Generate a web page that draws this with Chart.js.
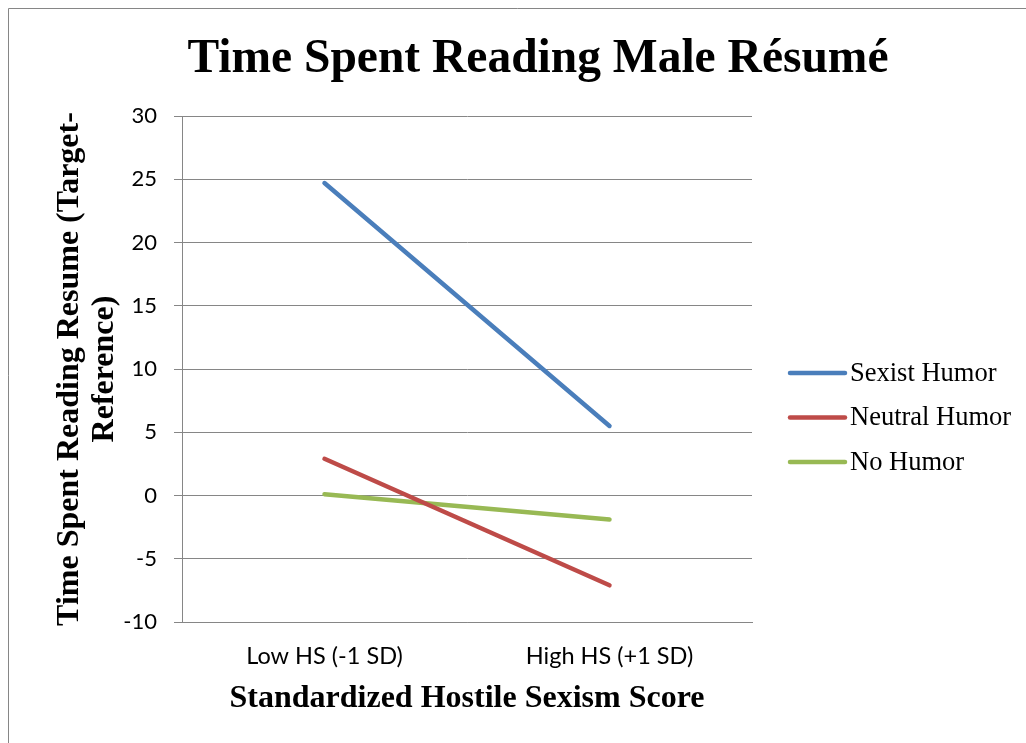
<!DOCTYPE html>
<html>
<head>
<meta charset="utf-8">
<title>Time Spent Reading Male Résumé</title>
<script src="https://cdn.jsdelivr.net/npm/chart.js@4.4.1/dist/chart.umd.min.js"></script>
<style>
  html, body { margin: 0; padding: 0; background: #ffffff; }
  #wrap { position: relative; width: 1026px; height: 743px; }
  canvas { display: block; }
</style>
</head>
<body>
<div id="wrap"><canvas id="chart" width="1026" height="743"></canvas></div>
<script>
// Data
const categories = ['Low HS (-1 SD)', 'High HS (+1 SD)'];
const seriesNames = ['Sexist Humor', 'Neutral Humor', 'No Humor'];
const sexistHumor = [24.7, 5.5];
const neutralHumor = [2.9, -7.1];
const noHumor = [0.1, -1.9];
const yTicks = [-10, -5, 0, 5, 10, 15, 20, 25, 30];

const GRID = '#868686';
const SERIF = '"Liberation Serif", "Times New Roman", serif';
const SANS = 'Lato, "Open Sans", sans-serif';

// White page with the thin frame along the top and left edges
const framePlugin = {
  id: 'frame',
  beforeDraw(chart) {
    const ctx = chart.ctx;
    ctx.save();
    ctx.fillStyle = '#ffffff';
    ctx.fillRect(0, 0, chart.width, chart.height);
    ctx.strokeStyle = GRID;
    ctx.lineWidth = 1;
    ctx.beginPath();
    ctx.moveTo(8.5, chart.height);
    ctx.lineTo(8.5, 8.5);
    ctx.lineTo(chart.width, 8.5);
    ctx.stroke();
    ctx.restore();
  }
};

// Legend drawn to the right of the plot, one line sample per series
const sideLegend = {
  id: 'sideLegend',
  afterDraw(chart, args, opts) {
    const ctx = chart.ctx;
    ctx.save();
    ctx.font = opts.font;
    ctx.textBaseline = 'middle';
    ctx.textAlign = 'left';
    chart.data.datasets.forEach((ds, i) => {
      const y = opts.top + i * opts.rowGap;
      ctx.strokeStyle = ds.borderColor;
      ctx.lineWidth = ds.borderWidth;
      ctx.lineCap = 'round';
      ctx.beginPath();
      ctx.moveTo(opts.x, y);
      ctx.lineTo(opts.x + opts.lineLength, y);
      ctx.stroke();
      ctx.fillStyle = '#000000';
      ctx.fillText(ds.label, opts.x + opts.lineLength + opts.gap, y + 1);
    });
    ctx.restore();
  }
};

const seriesValues = [sexistHumor, neutralHumor, noHumor];
const seriesColors = ['#4A7EBB', '#BE4B48', '#98B954'];

new Chart(document.getElementById('chart'), {
  type: 'line',
  data: {
    labels: categories,
    datasets: seriesNames.map((name, i) => ({
      label: name,
      data: seriesValues[i],
      borderColor: seriesColors[i],
      backgroundColor: seriesColors[i],
      borderWidth: 4.5,
      borderCapStyle: 'round',
      pointRadius: 0,
      pointHoverRadius: 0,
      tension: 0,
      fill: false
    }))
  },
  options: {
    responsive: false,
    animation: false,
    layout: { padding: { top: 0, left: 50, right: 0, bottom: 0 } },
    plugins: {
      legend: { display: false },
      tooltip: { enabled: false },
      title: {
        display: true,
        text: 'Time Spent Reading Male Résumé',
        color: '#000000',
        font: { family: SERIF, size: 47.5, weight: 'bold', lineHeight: 1.2 },
        padding: { top: 31, bottom: 28 }
      },
      sideLegend: {
        x: 790,
        top: 373,
        rowGap: 44.5,
        lineLength: 55,
        gap: 5,
        font: '26.5px ' + SERIF
      }
    },
    scales: {
      x: {
        type: 'category',
        offset: true,
        grid: { display: false, drawTicks: false },
        border: { display: true, color: GRID, width: 1 },
        ticks: {
          color: '#000000',
          font: { family: SANS, size: 23.5, lineHeight: 1.2 },
          padding: 20,
          maxRotation: 0
        },
        title: {
          display: true,
          text: 'Standardized Hostile Sexism Score',
          color: '#000000',
          font: { family: SERIF, size: 32, weight: 'bold', lineHeight: 1.2 },
          padding: { top: 0, bottom: 25 }
        },
        afterFit(scale) { scale.height = 121; }
      },
      y: {
        min: yTicks[0],
        max: yTicks[yTicks.length - 1],
        afterBuildTicks(scale) { scale.ticks = yTicks.map(v => ({ value: v })); },
        grid: { color: GRID, lineWidth: 1, tickLength: 8, drawTicks: true },
        border: { display: true, color: GRID, width: 1 },
        ticks: {
          color: '#000000',
          font: { family: SANS, size: 22 },
          padding: 17
        },
        title: {
          display: true,
          text: ['Time Spent Reading Resume (Target-', 'Reference)'],
          color: '#000000',
          font: { family: SERIF, size: 32, weight: 'bold', lineHeight: 1.1 },
          padding: { top: 2, bottom: 0 }
        },
        afterFit(scale) { scale.width = 132; }
      },
      // empty band on the right that holds the legend
      legendBand: {
        type: 'linear',
        position: 'right',
        display: true,
        grid: { display: false, drawTicks: false },
        border: { display: false },
        ticks: { display: false },
        afterFit(scale) { scale.width = 274; }
      }
    }
  },
  plugins: [framePlugin, sideLegend]
});
</script>
</body>
</html>
